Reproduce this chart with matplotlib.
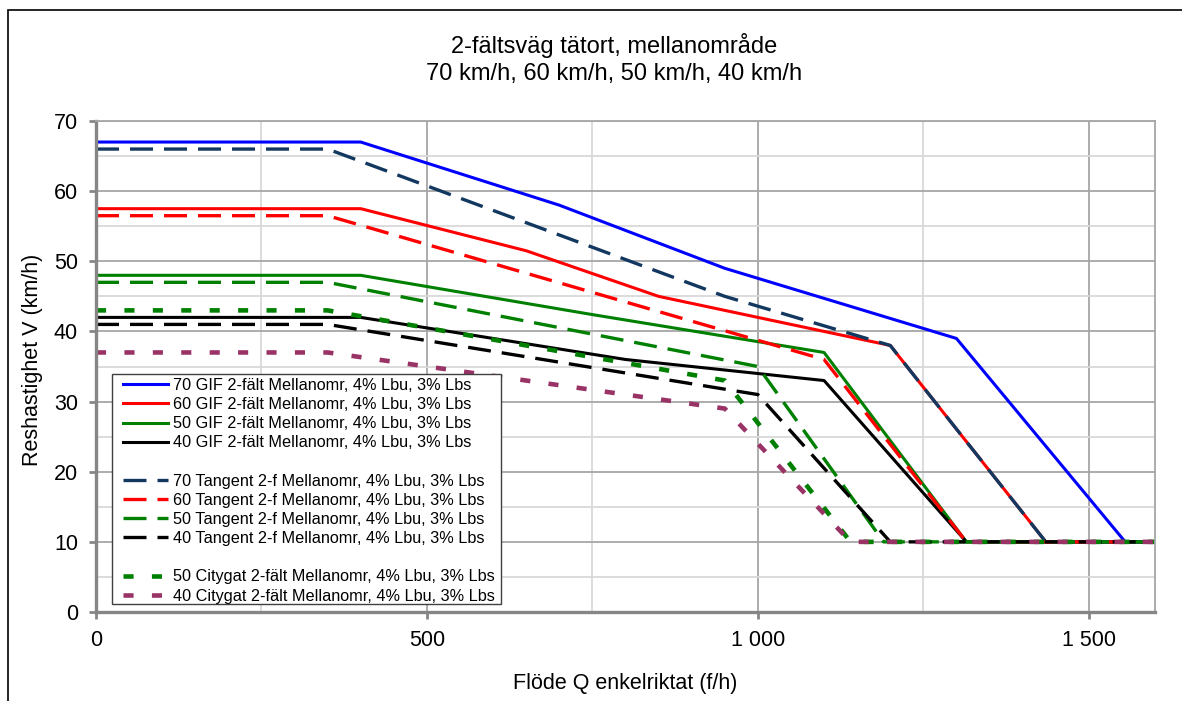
import matplotlib
matplotlib.use("Agg")
import matplotlib.pyplot as plt
from matplotlib.lines import Line2D
from matplotlib.patches import Rectangle
from matplotlib.ticker import FuncFormatter, MultipleLocator

plt.rcParams['font.family'] = ['Liberation Sans', 'DejaVu Sans']

# ---- data (flow Q [f/h], speed V [km/h]) ----
q_gif70 = [0, 400, 700, 950, 1300, 1555, 1600]
v_gif70 = [67, 67, 58, 49, 39, 10, 10]
q_gif60 = [0, 400, 650, 850, 1200, 1435, 1600]
v_gif60 = [57.5, 57.5, 51.5, 45, 38, 10, 10]
q_gif50 = [0, 400, 750, 1100, 1315, 1600]
v_gif50 = [48, 48, 42.4, 37, 10, 10]
q_gif40 = [0, 400, 800, 1100, 1315, 1600]
v_gif40 = [42, 42, 36, 33, 10, 10]

q_tan70 = [0, 350, 950, 1200, 1435, 1600]
v_tan70 = [66, 66, 45, 38, 10, 10]
q_tan60 = [0, 350, 1100, 1315, 1600]
v_tan60 = [56.5, 56.5, 36, 10, 10]
q_tan50 = [0, 350, 1000, 1190, 1600]
v_tan50 = [47, 47, 35, 10, 10]
q_tan40 = [0, 350, 1000, 1200, 1600]
v_tan40 = [41, 41, 31, 10, 10]

q_city50 = [0, 350, 950, 1140, 1600]
v_city50 = [43, 43, 33, 10, 10]
q_city40 = [0, 350, 950, 1140, 1600]
v_city40 = [37, 37, 29, 10, 10]

labels_gif = ["70 GIF 2-fält Mellanomr, 4% Lbu, 3% Lbs",
              "60 GIF 2-fält Mellanomr, 4% Lbu, 3% Lbs",
              "50 GIF 2-fält Mellanomr, 4% Lbu, 3% Lbs",
              "40 GIF 2-fält Mellanomr, 4% Lbu, 3% Lbs"]
labels_tan = ["70 Tangent 2-f Mellanomr, 4% Lbu, 3% Lbs",
              "60 Tangent 2-f Mellanomr, 4% Lbu, 3% Lbs",
              "50 Tangent 2-f Mellanomr, 4% Lbu, 3% Lbs",
              "40 Tangent 2-f Mellanomr, 4% Lbu, 3% Lbs"]
labels_city = ["50 Citygat 2-fält Mellanomr, 4% Lbu, 3% Lbs",
               "40 Citygat 2-fält Mellanomr, 4% Lbu, 3% Lbs"]

title_lines = ["2-fältsväg tätort, mellanområde", "70 km/h, 60 km/h, 50 km/h, 40 km/h"]
xlabel = "Flöde Q enkelriktat (f/h)"
ylabel = "Reshastighet V (km/h)"

c_blue, c_red, c_green, c_black = '#0000FF', '#FF0000', '#008000', '#000000'
c_navy, c_mag = '#133860', '#993366'

W, H = 1182, 701
fig = plt.figure(figsize=(W / 100, H / 100), dpi=100)
ax = fig.add_axes([96 / W, 1 - 612 / H, (1155 - 96) / W, (612 - 121) / H])

lw_solid = 2.2
lw_dash = 2.4
lw_dot = 3.3
dash_t = (6.9, 3.3)
dash_c = (2.2, 4.0)

handles = []
for q, v, c, lab in [(q_gif70, v_gif70, c_blue, labels_gif[0]),
                     (q_gif60, v_gif60, c_red, labels_gif[1]),
                     (q_gif50, v_gif50, c_green, labels_gif[2]),
                     (q_gif40, v_gif40, c_black, labels_gif[3])]:
    h, = ax.plot(q, v, color=c, lw=lw_solid, label=lab, solid_joinstyle='round')
    handles.append(h)
tan_handles = []
for q, v, c, lab in [(q_tan70, v_tan70, c_navy, labels_tan[0]),
                     (q_tan60, v_tan60, c_red, labels_tan[1]),
                     (q_tan50, v_tan50, c_green, labels_tan[2]),
                     (q_tan40, v_tan40, c_black, labels_tan[3])]:
    h, = ax.plot(q, v, color=c, lw=lw_dash, dashes=dash_t, label=lab)
    tan_handles.append(h)
city_handles = []
for q, v, c, lab in [(q_city50, v_city50, c_green, labels_city[0]),
                     (q_city40, v_city40, c_mag, labels_city[1])]:
    h, = ax.plot(q, v, color=c, lw=lw_dot, dashes=dash_c, label=lab)
    city_handles.append(h)

ax.set_xlim(0, 1600)
ax.set_ylim(0, 70)
ax.xaxis.set_major_locator(MultipleLocator(500))
ax.xaxis.set_minor_locator(MultipleLocator(250))
ax.yaxis.set_major_locator(MultipleLocator(10))
ax.yaxis.set_minor_locator(MultipleLocator(5))
ax.xaxis.set_major_formatter(FuncFormatter(lambda x, p: f"{int(x):,}".replace(",", " ")))
ax.yaxis.set_major_formatter(FuncFormatter(lambda y, p: f"{int(y)}"))

ax.grid(which='major', color='#A6A6A6', lw=1.3)
ax.grid(which='minor', color='#D9D9D9', lw=1.3)
ax.set_axisbelow(True)

for s in ['left', 'bottom']:
    ax.spines[s].set_color('#868686')
    ax.spines[s].set_linewidth(2.4)
for s in ['top', 'right']:
    ax.spines[s].set_color('#A6A6A6')
    ax.spines[s].set_linewidth(1.3)

ax.tick_params(which='major', direction='out', length=5, width=2.0, color='#868686',
               labelsize=15.5, pad=8)
ax.tick_params(which='minor', length=0)

# legend box (drawn separately so padding matches)
ax.add_artist(Rectangle((112 / W, 1 - 604 / H), (501 - 112) / W, (604 - 374) / H,
                        transform=fig.transFigure, facecolor='white',
                        edgecolor='#404040', lw=1.0, zorder=10, clip_on=False))

blank = Line2D([], [], color='none')
leg_handles = handles + [blank] + tan_handles + [blank] + city_handles
leg_labels = labels_gif + [' '] + labels_tan + [' '] + labels_city
leg = fig.legend(leg_handles, leg_labels, loc='upper left',
                 bbox_to_anchor=(123 / W, 1 - 378 / H), bbox_transform=fig.transFigure,
                 fontsize=11.7, handlelength=2.75, handletextpad=0.3,
                 labelspacing=0.255, borderpad=0.0, borderaxespad=0,
                 frameon=False)
leg.set_zorder(20)

fig.text(614 / W, 1 - 45 / H, title_lines[0], ha='center', va='center', fontsize=17)
fig.text(614 / W, 1 - 74 / H, title_lines[1], ha='center', va='center', fontsize=17)
fig.text(625 / W, 1 - 683 / H, xlabel, ha='center', va='center', fontsize=15.5)
fig.text(33 / W, 1 - 360 / H, ylabel, ha='center', va='center', rotation=90, fontsize=15.5)

# outer chart border (cropped at right/bottom)
fig.add_artist(Rectangle((8 / W, -0.5), 2.0, 0.5 + (H - 10) / H, fill=False,
                         edgecolor='black', lw=1.2, transform=fig.transFigure))

fig.savefig("out.png", dpi=100)
